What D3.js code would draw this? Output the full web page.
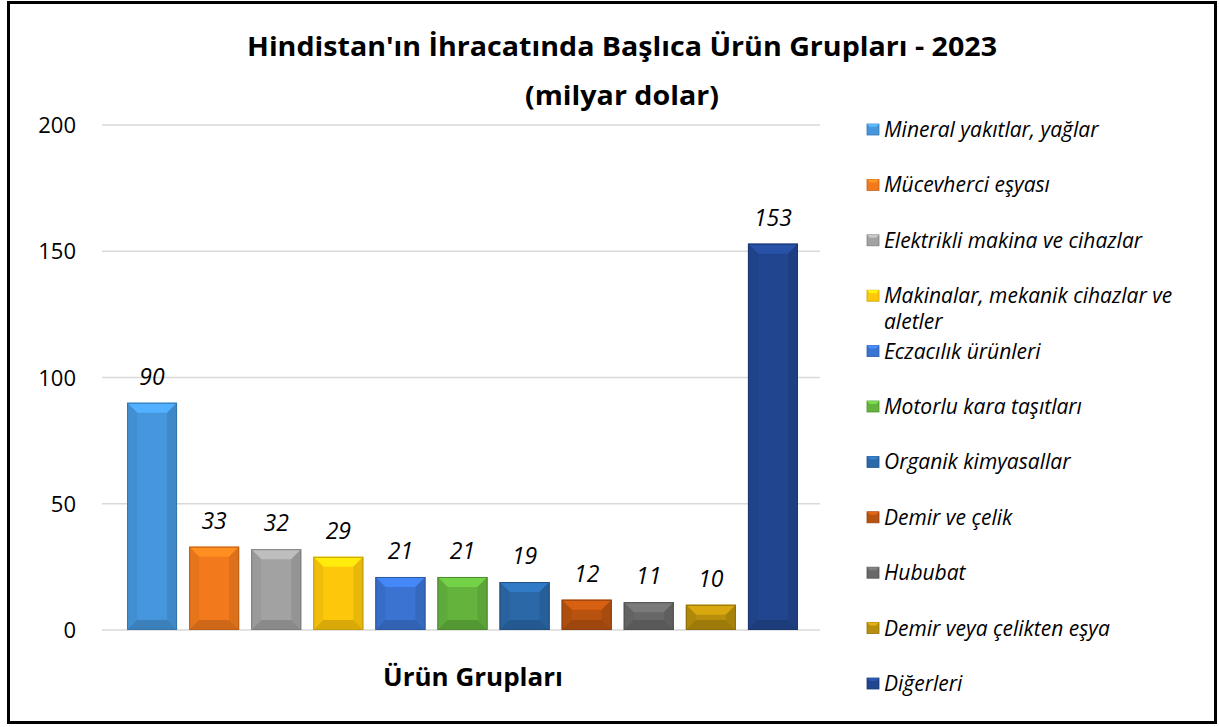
<!DOCTYPE html>
<html>
<head>
<meta charset="utf-8">
<script src="https://cdn.jsdelivr.net/npm/d3@7"></script>
<style>
  body { margin: 0; background: #fff; }
  svg { display: block; font-family: "Open Sans", sans-serif; }
</style>
</head>
<body>
<svg id="chart" width="1219" height="727"></svg>
<script>
// Chart data
const categories = [
    "Mineral yakıtlar, yağlar",
    "Mücevherci eşyası",
    "Elektrikli makina ve cihazlar",
    "Makinalar, mekanik cihazlar ve aletler",
    "Eczacılık ürünleri",
    "Motorlu kara taşıtları",
    "Organik kimyasallar",
    "Demir ve çelik",
    "Hububat",
    "Demir veya çelikten eşya",
    "Diğerleri"
];
const values = [90, 33, 32, 29, 21, 21, 19, 12, 11, 10, 153];
const yTicks = [0, 50, 100, 150, 200];
const colors = ["#4596dc", "#f27a1c", "#a2a2a2", "#fdc80a", "#3a73d2", "#63b33d",
                "#2a68a8", "#b8520f", "#686868", "#b88f0c", "#21468f"];

const title1 = "Hindistan'ın İhracatında Başlıca Ürün Grupları - 2023";
const title2 = "(milyar dolar)";
const xTitle = "Ürün Grupları";

const svg = d3.select("#chart");

// Outer frame
svg.append("rect")
    .attr("x", 8.5).attr("y", 2.5)
    .attr("width", 1207).attr("height", 720)
    .attr("fill", "#fff")
    .attr("stroke", "#000")
    .attr("stroke-width", 3);

// Scales
const plotLeft = 102, plotRight = 820;
const y = d3.scaleLinear().domain([0, 200]).range([630, 125]);
const x = d3.scaleBand().domain(categories).range([121, 804])
    .paddingInner(0.195).paddingOuter(0.0975);

// Gridlines
svg.append("g").selectAll("line")
    .data(yTicks)
    .enter().append("line")
    .attr("x1", plotLeft).attr("x2", plotRight)
    .attr("y1", d => y(d)).attr("y2", d => y(d))
    .style("stroke", "#d9d9d9")
    .style("stroke-width", 1.5);

// Y tick labels
svg.append("g").selectAll("text")
    .data(yTicks)
    .enter().append("text")
    .attr("x", 76)
    .attr("y", d => y(d) + 8)
    .attr("text-anchor", "end")
    .style("font-size", "22px")
    .style("fill", "#000")
    .text(d => d);

// Beveled bars
const bars = svg.append("g").selectAll("g")
    .data(values.map((v, i) => ({ cat: categories[i], value: v, color: colors[i] })))
    .enter().append("g");

bars.each(function (d) {
    const g = d3.select(this);
    const x0 = x(d.cat), w = x.bandwidth();
    const y0 = y(d.value), y1 = y(0);
    const h = y1 - y0;
    const b = Math.min(10, h / 2, w / 2);
    const c = d3.color(d.color);
    const x1 = x0 + w;

    g.append("rect").attr("x", x0).attr("y", y0).attr("width", w).attr("height", h)
        .attr("fill", c.formatHex());
    // top
    g.append("polygon")
        .attr("points", [[x0, y0], [x1, y0], [x1 - b, y0 + b], [x0 + b, y0 + b]].join(" "))
        .attr("fill", c.brighter(0.45).formatHex());
    // left
    g.append("polygon")
        .attr("points", [[x0, y0], [x0 + b, y0 + b], [x0 + b, y1 - b], [x0, y1]].join(" "))
        .attr("fill", c.darker(0.15).formatHex());
    // right
    g.append("polygon")
        .attr("points", [[x1, y0], [x1 - b, y0 + b], [x1 - b, y1 - b], [x1, y1]].join(" "))
        .attr("fill", c.darker(0.25).formatHex());
    // bottom
    g.append("polygon")
        .attr("points", [[x0, y1], [x0 + b, y1 - b], [x1 - b, y1 - b], [x1, y1]].join(" "))
        .attr("fill", c.darker(0.45).formatHex());
    g.append("rect").attr("x", x0 + 0.5).attr("y", y0 + 0.5).attr("width", w - 1).attr("height", h - 1)
        .attr("fill", "none").attr("stroke", c.darker(0.7).formatHex()).attr("stroke-width", 1);
});

// Value labels
svg.append("g").selectAll("text")
    .data(values)
    .enter().append("text")
    .attr("x", (d, i) => x(categories[i]) + x.bandwidth() / 2)
    .attr("y", d => y(d) - 18)
    .attr("text-anchor", "middle")
    .style("font-size", "23px")
    .style("font-style", "italic")
    .style("fill", "#000")
    .text(d => d);

// Titles (squeezed to the width of the narrower original font)
svg.append("text")
    .attr("x", 622).attr("y", 56)
    .attr("text-anchor", "middle")
    .attr("textLength", 750).attr("lengthAdjust", "spacingAndGlyphs")
    .style("font-size", "27px").style("font-weight", "bold")
    .text(title1);
svg.append("text")
    .attr("x", 622).attr("y", 105)
    .attr("text-anchor", "middle")
    .attr("textLength", 194).attr("lengthAdjust", "spacingAndGlyphs")
    .style("font-size", "27px").style("font-weight", "bold")
    .text(title2);

svg.append("text")
    .attr("x", 473).attr("y", 686)
    .attr("text-anchor", "middle")
    .attr("textLength", 180).attr("lengthAdjust", "spacingAndGlyphs")
    .style("font-size", "25px").style("font-weight", "bold")
    .text(xTitle);

// Legend
const legend = svg.append("g").selectAll("g")
    .data(categories)
    .enter().append("g")
    .attr("transform", (d, i) => `translate(867,${129 + i * 55.4})`);

legend.each(function (d, i) {
    const g = d3.select(this);
    const c = d3.color(colors[i]);
    g.append("rect").attr("x", 0).attr("y", -5).attr("width", 12).attr("height", 11)
        .attr("fill", c.formatHex()).attr("stroke", c.darker(0.6).formatHex()).attr("stroke-width", 0.8);
    g.append("polygon").attr("points", "0,-5 12,-5 9,-2 3,-2")
        .attr("fill", c.brighter(0.6).formatHex());
    const lines = d === "Makinalar, mekanik cihazlar ve aletler"
        ? ["Makinalar, mekanik cihazlar ve", "aletler"] : [d];
    lines.forEach((ln, j) => {
        g.append("text")
            .attr("x", 17).attr("y", 8 + j * 26)
            .style("font-size", "21px")
            .style("font-style", "italic")
            .style("fill", "#000")
            .text(ln);
    });
});
</script>
</body>
</html>
